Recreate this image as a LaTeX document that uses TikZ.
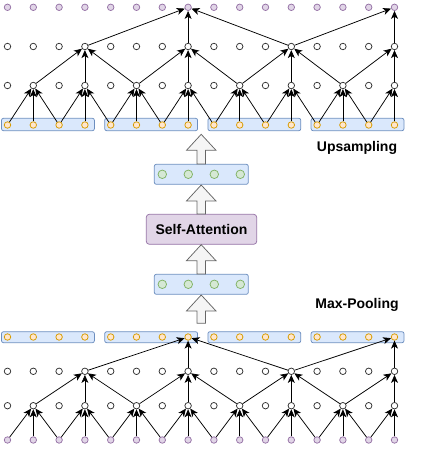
\documentclass[tikz,border=0pt]{standalone}
\usepackage{fontspec}
\setmainfont{Liberation Sans}
\usetikzlibrary{arrows.meta}
\definecolor{purpfill}{HTML}{E1D5E7}
\definecolor{purpline}{HTML}{9673A6}
\definecolor{orngfill}{HTML}{FFE6CC}
\definecolor{orngline}{HTML}{D79B00}
\definecolor{bluefill}{HTML}{DAE8FC}
\definecolor{blueline}{HTML}{6C8EBF}
\definecolor{grnfill}{HTML}{D5E8D4}
\definecolor{grnline}{HTML}{82B366}
\definecolor{arrfill}{HTML}{F5F5F5}
\definecolor{arrline}{HTML}{666666}
\tikzset{
  pdot/.style={circle,draw=purpline,fill=purpfill,line width=0.75pt,minimum size=6.5pt,inner sep=0pt},
  wdot/.style={circle,draw=black!80,fill=white,line width=0.75pt,minimum size=6.5pt,inner sep=0pt},
  odot/.style={circle,draw=orngline,fill=orngfill,line width=0.75pt,minimum size=6.5pt,inner sep=0pt},
  gdot/.style={circle,draw=grnline,fill=grnfill,line width=0.75pt,minimum size=8.5pt,inner sep=0pt},
  bluebox/.style={draw=blueline,fill=bluefill,rounded corners=2pt,line width=0.75pt,inner sep=0pt},
  attbox/.style={draw=purpline,fill=purpfill,rounded corners=3pt,line width=0.75pt,inner sep=0pt,font=\fontsize{14}{16}\selectfont\bfseries},
  link/.style={-{Stealth[length=8pt,width=7pt,inset=2.2pt]},line width=0.75pt},
  fatarrow/.style={draw=arrline,fill=arrfill,line width=0.75pt},
  lbl/.style={font=\fontsize{14}{16}\selectfont\bfseries}
}
\begin{document}
\begin{tikzpicture}[x=1pt,y=-1pt]%
\useasboundingbox (0,0) rectangle (444,455);%
\foreach \g in {0,1,2,3} {%
  \pgfmathsetmacro\bx{7.5+103.2*\g+40.45}%
  \node[bluebox,minimum width=92.9pt,minimum height=12.4pt] (ubox\g) at (\bx,124.5) {};%
  \node[bluebox,minimum width=92.9pt,minimum height=11pt] (dbox\g) at (\bx,337.2) {};%
}%
\foreach \i in {0,...,15} {%
  \pgfmathsetmacro\cx{7.5+25.8*\i}%
  \node[pdot] (u3-\i) at (\cx,7.3) {};%
  \node[wdot] (u2-\i) at (\cx,46.5) {};%
  \node[wdot] (u1-\i) at (\cx,85.5) {};%
  \node[odot] (u0-\i) at (\cx,125) {};%
  \node[odot] (d3-\i) at (\cx,337) {};%
  \node[wdot] (d2-\i) at (\cx,371.3) {};%
  \node[wdot] (d1-\i) at (\cx,405.7) {};%
  \node[pdot] (d0-\i) at (\cx,440) {};%
}%
\foreach \j in {1,3,...,15} \foreach \d in {-1,0,1} {%
  \pgfmathtruncatemacro\k{\j+\d}%
  \ifnum\k<16 \draw[link] (u0-\k) -- (u1-\j); \draw[link] (d0-\k) -- (d1-\j); \fi%
}%
\foreach \j in {3,7,11,15} \foreach \d in {-2,0,2} {%
  \pgfmathtruncatemacro\k{\j+\d}%
  \ifnum\k<16 \draw[link] (u1-\k) -- (u2-\j); \draw[link] (d1-\k) -- (d2-\j); \fi%
}%
\foreach \j in {7,15} \foreach \d in {-4,0,4} {%
  \pgfmathtruncatemacro\k{\j+\d}%
  \ifnum\k<16 \draw[link] (u2-\k) -- (u3-\j); \draw[link] (d2-\k) -- (d3-\j); \fi%
}%
\node[bluebox,minimum width=94pt,minimum height=20pt] (gtop) at (201.3,174.3) {};%
\node[bluebox,minimum width=94pt,minimum height=20pt] (gbot) at (201.3,284.3) {};%
\foreach \i in {0,1,2,3} {%
  \pgfmathsetmacro\cx{162.3+26*\i}%
  \node[gdot] (gt\i) at (\cx,174.3) {};%
  \node[gdot] (gb\i) at (\cx,284.3) {};%
}%
\node[attbox,minimum width=110.4pt,minimum height=30pt] (att) at (201.5,229.3) {Self-Attention};%
\draw[fatarrow] (197,164) -- (197,150.3) -- (186.5,150.3) -- (201.2,134.3) -- (216,150.3) -- (205.4,150.3) -- (205.4,164) -- cycle;%
\draw[fatarrow] (197,214) -- (197,201) -- (186.5,201) -- (201.2,185) -- (216,201) -- (205.4,201) -- (205.4,214) -- cycle;%
\draw[fatarrow] (197,274) -- (197,260.7) -- (186.5,260.7) -- (201.2,244.7) -- (216,260.7) -- (205.4,260.7) -- (205.4,274) -- cycle;%
\draw[fatarrow] (197,323.3) -- (197,311) -- (186.5,311) -- (201.2,295) -- (216,311) -- (205.4,311) -- (205.4,323.3) -- cycle;%
\node[lbl] (upl) at (357,148.3) {Upsampling};%
\node[lbl] (mpl) at (357,304.5) {Max-Pooling};%
\end{tikzpicture}
\end{document}
